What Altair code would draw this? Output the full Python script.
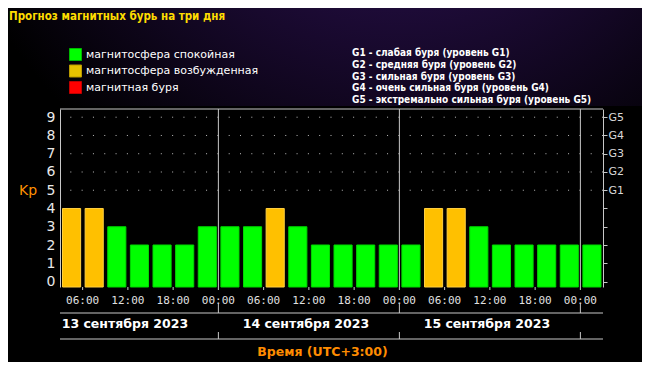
import altair as alt
import pandas as pd

# ---------------- data ----------------
slot_start = [3, 6, 9, 12, 15, 18, 21, 24, 27, 30, 33, 36, 39, 42, 45, 48,
              51, 54, 57, 60, 63, 66, 69, 72]          # hours from 13 Sep 00:00 (UTC+3)
kp_values = [4, 4, 3, 2, 2, 2, 3,
             3, 3, 4, 3, 2, 2, 2, 2,
             2, 4, 4, 3, 2, 2, 2, 2,
             2]
state_names = ["магнитосфера спокойная", "магнитосфера возбужденная", "магнитная буря"]
tick_hours = [6, 12, 18, 24, 30, 36, 42, 48, 54, 60, 66, 72]
day_bounds = [24, 48, 72]
day_centers = [12, 36, 60]
day_labels = ["13 сентября 2023", "14 сентября 2023", "15 сентября 2023"]
g_levels = [5, 6, 7, 8, 9]
g_lines = ["G1 - слабая буря (уровень G1)",
           "G2 - средняя буря (уровень G2)",
           "G3 - сильная буря (уровень G3)",
           "G4 - очень сильная буря (уровень G4)",
           "G5 - экстремально сильная буря (уровень G5)"]
title_text = "Прогноз магнитных бурь на три дня"
x_title = "Время (UTC+3:00)"

# ---------------- styles ----------------
W, H = 543, 178
YMIN, YMAX = -0.3, 9.45
bar_fill = ["#00ff00", "#ffc000", "#ff0000"]
bar_stroke = ["#00d800", "#ffcf40", "#d00000"]
legend_fill = ["#00ff00", "#e6c200", "#ff0000"]
legend_stroke = ["#00b800", "#b89a00", "#c00000"]
LINE = "#c8c8c8"


def state_of(v):
    if v >= 5:
        return state_names[2]
    if v >= 4:
        return state_names[1]
    return state_names[0]


df = pd.DataFrame({
    "start": slot_start,
    "end": [s + 3 for s in slot_start],
    "kp": kp_values,
    "state": [state_of(v) for v in kp_values],
})
one = pd.DataFrame({"k": [0]})

xscale = alt.Scale(domain=[3, 75], nice=False, zero=False)
yscale = alt.Scale(domain=[YMIN, YMAX], nice=False, zero=False)

# purple haze at top
haze = alt.Chart(one).mark_rect(
    color=alt.RadialGradient(
        gradient="radial", x1=0.62, y1=0.05, x2=0.62, y2=0.05, r1=0, r2=0.75,
        stops=[alt.GradientStop(color="#3c1a6a", offset=0),
               alt.GradientStop(color="#200c3c", offset=0.45),
               alt.GradientStop(color="#000000", offset=1)])
).encode(x=alt.value(-52), x2=alt.value(582), y=alt.value(-101), y2=alt.value(-3))

bars = alt.Chart(df).mark_bar(xOffset=2.5, x2Offset=-2, strokeWidth=1).encode(
    x=alt.X("start:Q", scale=xscale, axis=None),
    x2="end:Q",
    y=alt.Y("kp:Q", scale=yscale, axis=alt.Axis(
        orient="left", values=list(range(10)), title=None, domain=True, domainColor=LINE,
        ticks=False, grid=False, labelFont="DejaVu Sans", labelFontSize=14,
        labelColor="#e8e8e8", labelPadding=5, labelFlush=False)),
    y2=alt.datum(YMIN),
    color=alt.Color("state:N", scale=alt.Scale(domain=state_names, range=bar_fill), legend=None),
    stroke=alt.Stroke("state:N", scale=alt.Scale(domain=state_names, range=bar_stroke), legend=None),
)

grid = alt.Chart(pd.DataFrame({"level": g_levels})).mark_rule(
    strokeDash=[1, W / 48 - 1], color="#bdbdbd", strokeWidth=1
).encode(
    y=alt.Y("level:Q", scale=yscale, axis=alt.Axis(
        orient="right", values=list(range(10)), title=None, domain=True, domainColor=LINE,
        tickSize=4, tickColor=LINE, grid=False,
        labelExpr="datum.value >= 5 ? 'G' + (datum.value - 4) : ''",
        labelColor="#d8d8d8", labelFont="DejaVu Sans", labelFontSize=11,
        labelPadding=1, labelFlush=False))
)

ticks_df = pd.DataFrame({"h": tick_hours})
x_ticks = alt.Chart(ticks_df).mark_rule(color=LINE, strokeWidth=1).encode(
    x=alt.X("h:Q", scale=xscale, axis=None), y=alt.value(H), y2=alt.value(H + 3))
x_labels = alt.Chart(ticks_df).transform_calculate(
    lbl="(datum.h % 24 < 10 ? '0' : '') + (datum.h % 24) + ':00'"
).mark_text(font="DejaVu Sans Mono", fontSize=11, color="#e0e0e0",
            align="center", baseline="alphabetic").encode(
    x=alt.X("h:Q", scale=xscale, axis=None), y=alt.value(195), text="lbl:N")

days = pd.DataFrame({"h": day_bounds})


def vrule(y0, y1):
    return alt.Chart(days).mark_rule(color=LINE, strokeWidth=1).encode(
        x=alt.X("h:Q", scale=xscale, axis=None), y=alt.value(y0), y2=alt.value(y1))


def hrule(y):
    return alt.Chart(one).mark_rule(color=LINE, strokeWidth=1).encode(
        x=alt.value(0), x2=alt.value(W), y=alt.value(y))


def text(t, x, y, **kw):
    return alt.Chart(one).mark_text(**kw).encode(
        x=alt.value(x), y=alt.value(y), text=alt.value(t))


day_text = alt.Chart(pd.DataFrame({"c": day_centers, "label": day_labels})).mark_text(
    font="DejaVu Sans", fontWeight="bold", fontSize=12.5, color="#ffffff",
    baseline="alphabetic", align="center", dx=-3
).encode(x=alt.X("c:Q", scale=xscale, axis=None), y=alt.value(219), text="label:N")

layers = [haze, grid, bars, x_ticks, x_labels,
          vrule(0, H), vrule(194, 204), vrule(223, 230),
          hrule(0), hrule(204), hrule(230), day_text,
          text(title_text, -51, -89, font="DejaVu Sans Condensed", fontWeight="bold",
               fontSize=11.5, color="#ffdd00", align="left", baseline="alphabetic"),
          text("Kp", -32, 86, font="DejaVu Sans", fontSize=14, color="#ff9000",
               align="center", baseline="alphabetic"),
          text(x_title, 262.5, 247, font="DejaVu Sans", fontWeight="bold", fontSize=12.5,
               color="#ff8c00", align="center", baseline="alphabetic")]

for i, name in enumerate(state_names):
    yy = -54.5 + i * 16.5
    layers.append(alt.Chart(one).mark_square(
        size=144, fill=legend_fill[i], stroke=legend_stroke[i], strokeWidth=1,
        fillOpacity=1, opacity=1).encode(x=alt.value(15.5), y=alt.value(yy)))
    layers.append(text(name, 26, yy, font="DejaVu Sans", fontSize=11, color="#ffffff",
                       align="left", baseline="middle"))

for i, line in enumerate(g_lines):
    layers.append(text(line, 292, -55.7 + i * 11.67, font="DejaVu Sans Condensed",
                       fontWeight="bold", fontSize=10, color="#ffffff",
                       align="left", baseline="middle"))

chart = alt.layer(*layers).resolve_axis(y="independent").properties(
    width=W, height=H,
    autosize=alt.AutoSizeParams(type="none"),
    padding={"left": 52, "top": 101, "right": 39, "bottom": 75},
    background="#000000",
).configure_view(stroke=None)

chart.save("out.html", embed_options={"renderer": "svg", "actions": False})
